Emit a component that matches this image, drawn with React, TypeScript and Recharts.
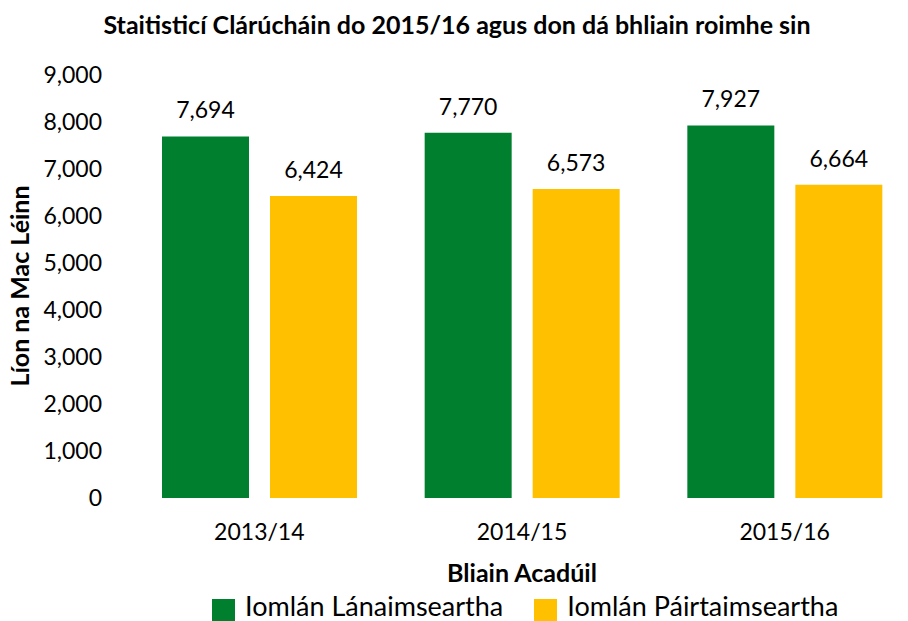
import React from 'react';
import { BarChart, Bar, XAxis, YAxis, Legend, LabelList } from 'recharts';

const years = ['2013/14', '2014/15', '2015/16'];
const fullTime = [7694, 7770, 7927];
const partTime = [6424, 6573, 6664];
const yTicks = [0, 1000, 2000, 3000, 4000, 5000, 6000, 7000, 8000, 9000];
const edgeTicks = [0, 1, 2, 3];

const seriesNames = { full: 'Iomlán Lánaimseartha', part: 'Iomlán Páirtaimseartha' };
const colors = { full: '#00802F', part: '#FFC000' };

const data = years.map((y, i) => ({ year: y, full: fullTime[i], part: partTime[i] }));

const FONT = 'Lato, "Open Sans", sans-serif';
const fmt = (v: number) => v.toLocaleString('en-US');

const LegendContent = () => (
  <div style={{ display: 'flex', alignItems: 'flex-start', fontFamily: FONT, fontSize: 27, color: '#000' }}>
    {(['full', 'part'] as const).map((k, i) => (
      <div key={k} style={{ display: 'flex', alignItems: 'flex-start', marginRight: i === 0 ? 31 : 0 }}>
        <span style={{ display: 'inline-block', width: 23, height: 22, background: colors[k], marginRight: 10, marginTop: 5 }} />
        <span style={{ lineHeight: '24px', whiteSpace: 'nowrap' }}>{seriesNames[k]}</span>
      </div>
    ))}
  </div>
);

export default function App() {
  return (
    <div style={{ position: 'absolute', left: 0, top: 0, width: 908, height: 621, overflow: 'hidden', background: '#fff' }}>
      <BarChart
        width={916}
        height={621}
        data={data}
        margin={{ top: 75, right: 0, left: 0, bottom: 0 }}
        barCategoryGap={34}
        barGap={21}
      >
        <XAxis
          xAxisId="edge"
          type="number"
          domain={[0, 3]}
          ticks={edgeTicks}
          tick={false}
          tickSize={6}
          height={0}
          axisLine={{ stroke: '#898989', strokeWidth: 1.5 }}
          tickLine={{ stroke: '#898989', strokeWidth: 1.5 }}
        />
        <XAxis
          xAxisId="cat"
          dataKey="year"
          height={123}
          axisLine={false}
          tickLine={false}
          tickSize={0}
          tickMargin={26}
          tick={{ fontFamily: FONT, fontSize: 23, fill: '#000' }}
        />
        <YAxis
          width={128}
          domain={[0, 9000]}
          ticks={yTicks}
          tickFormatter={fmt}
          axisLine={false}
          tickLine={false}
          tickSize={0}
          tickMargin={26}
          tick={{ fontFamily: FONT, fontSize: 23, fill: '#000' }}
        />
        <Bar xAxisId="cat" dataKey="full" name={seriesNames.full} fill={colors.full} isAnimationActive={false}>
          <LabelList dataKey="full" position="top" offset={18} formatter={fmt} style={{ fontFamily: FONT, fontSize: 23, fill: '#000' }} />
        </Bar>
        <Bar xAxisId="cat" dataKey="part" name={seriesNames.part} fill={colors.part} isAnimationActive={false}>
          <LabelList dataKey="part" position="top" offset={18} formatter={fmt} style={{ fontFamily: FONT, fontSize: 23, fill: '#000' }} />
        </Bar>
        <Legend
          layout="horizontal"
          verticalAlign="middle"
          align="center"
          content={LegendContent}
          wrapperStyle={{ top: 594, left: 212, width: 'auto' }}
        />
        <text x={457} y={34} textAnchor="middle" style={{ fontFamily: FONT, fontSize: 25, fontWeight: 700, fill: '#000' }}>
          Staitisticí Clárúcháin do 2015/16 agus don dá bhliain roimhe sin
        </text>
        <text x={522} y={582} textAnchor="middle" style={{ fontFamily: FONT, fontSize: 25, fontWeight: 700, fill: '#000' }}>
          Bliain Acadúil
        </text>
        <text x={29} y={286} textAnchor="middle" transform="rotate(-90, 29, 286)" style={{ fontFamily: FONT, fontSize: 25, fontWeight: 700, fill: '#000' }}>
          Líon na Mac Léinn
        </text>
      </BarChart>
    </div>
  );
}
